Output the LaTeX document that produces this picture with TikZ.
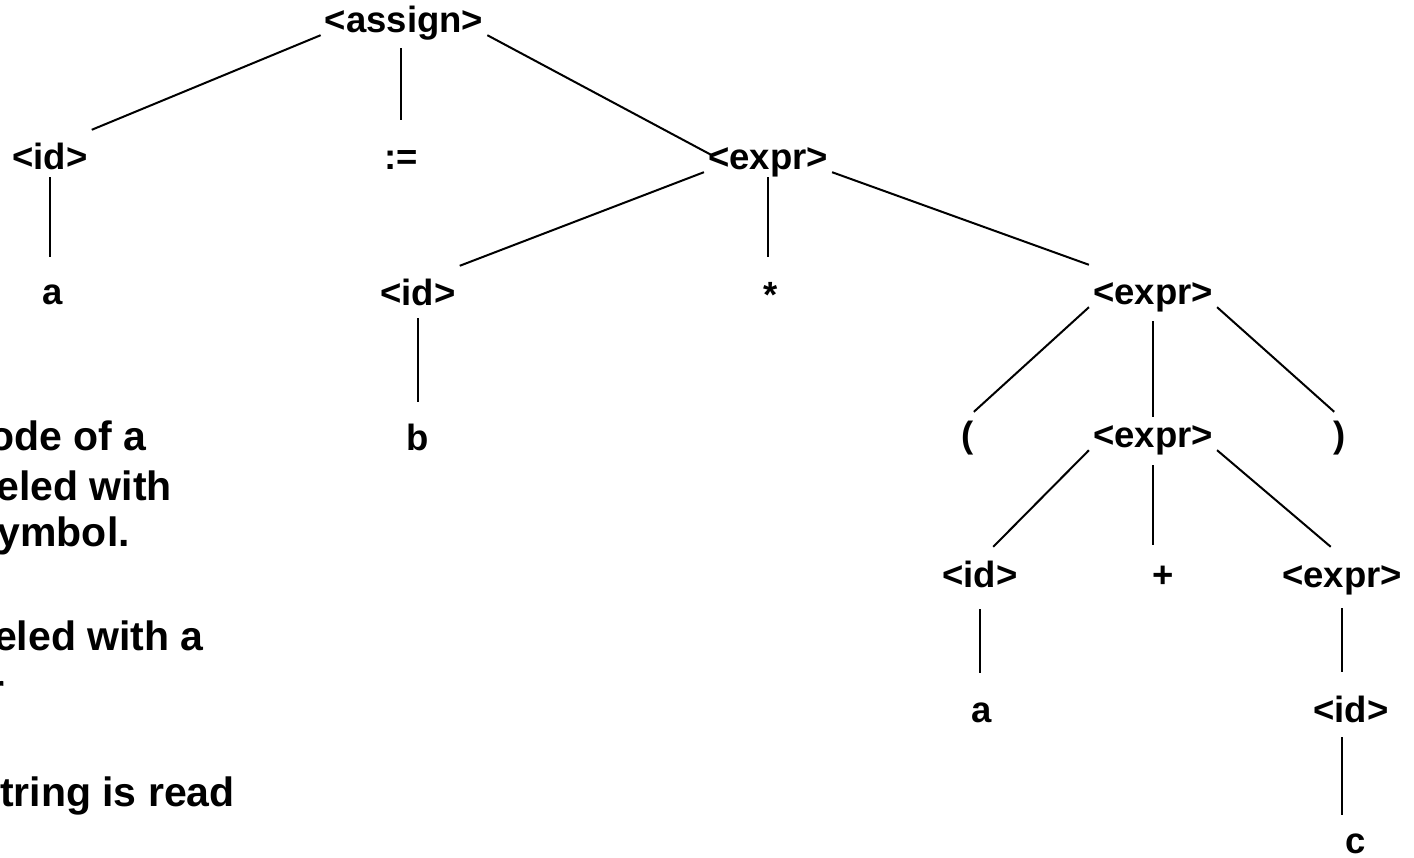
\documentclass[tikz,border=0pt]{standalone}
\usepackage{fontspec}
\setmainfont{Liberation Sans}
\begin{document}
\begin{tikzpicture}[x=1pt,y=-1pt,
  t/.style={font=\fontsize{36.5}{44}\selectfont\bfseries, text height=38pt, text depth=0pt, inner xsep=4pt, inner ysep=2pt, anchor=base},
  para/.style={font=\fontsize{41}{49}\selectfont\bfseries, inner sep=0pt, anchor=base east},
  ln/.style={line width=2pt}]
\useasboundingbox (0,0) rectangle (1414,858);
\clip (0,0) rectangle (1414,858);
\node[t] (assign) at (404,33) {<assign>};
\node[t] (id1) at (50,170) {<id>};
\node[t] (col) at (401,170) {:=};
\node[t] (x1) at (768,170) {<expr>};
\node[t] (a1) at (53,305) {a};
\node[t] (id2) at (418,306) {<id>};
\node[t] (star) at (771,308) {*};
\node[t] (x2) at (1153,305) {<expr>};
\node[t] (b) at (418,450) {b};
\node[t] (lp) at (968,448) {(};
\node[t] (x3) at (1153,448) {<expr>};
\node[t] (rp) at (1340,448) {)};
\node[t] (id3) at (980,587) {<id>};
\node[t] (plus) at (1163,587) {+};
\node[t] (x4) at (1342,587) {<expr>};
\node[t] (a2) at (982,722) {a};
\node[t] (id4) at (1351,722) {<id>};
\node[t] (c) at (1356,853) {c};
\draw[ln] (assign.south west) -- (id1.north east);
\draw[ln, shorten >=-8pt] (assign.south east) -- (x1.west);
\draw[ln, shorten <=13pt, shorten >=10pt] (assign.south -| col.north) -- (col.north);
\draw[ln, shorten <=5pt, shorten >=8pt] (id1.south) -- (id1.south |- a1.north);
\draw[ln] (x1.south west) -- (id2.north east);
\draw[ln, shorten <=5pt, shorten >=11pt] (x1.south) -- (x1.south |- star.north);
\draw[ln] (x1.south east) -- (x2.north west);
\draw[ln, shorten <=10pt, shorten >=8pt] (id2.south) -- (id2.south |- b.north);
\draw[ln, shorten >=-6pt] (x2.south west) -- (lp.north east);
\draw[ln, shorten <=14pt, shorten >=-9pt] (x2.south) -- (x3.north);
\draw[ln, shorten >=-6pt] (x2.south east) -- (rp.north west);
\draw[ln] (x3.south west) -- (id3.58);
\draw[ln, shorten <=15pt, shorten >=2pt] (x3.south) -- (x3.south |- plus.north);
\draw[ln] (x3.south east) -- (x4.118);
\draw[ln, shorten <=20pt, shorten >=9pt] (id3.south) -- (id3.south |- a2.north);
\draw[ln, shorten <=19pt, shorten >=10pt] (x4.south) -- (x4.south |- id4.north);
\draw[ln, shorten <=13pt, shorten >=-2pt] (id4.south -| x4.south) -- (x4.south |- c.north);
\node[para] (p1) at (147,450) {ode of a};
\node[para] (p2) at (172,500) {eled with};
\node[para] (p3) at (130,546) {ymbol.};
\node[para] (p4) at (204,650) {eled with a};
\node[para] (p5) at (5,703) {r};
\node[para] (p6) at (235,806) {tring is read};
\end{tikzpicture}
\end{document}
